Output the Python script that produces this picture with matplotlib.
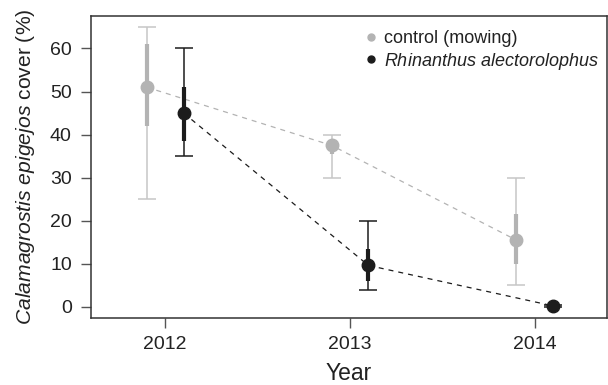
import matplotlib
matplotlib.use("Agg")
import matplotlib.pyplot as plt
import numpy as np

plt.rcParams['font.family'] = ['Liberation Sans', 'DejaVu Sans']
plt.rcParams['mathtext.fontset'] = 'custom'
plt.rcParams['mathtext.rm'] = 'Liberation Sans'
plt.rcParams['mathtext.it'] = 'Liberation Sans:italic'

years = [2012, 2013, 2014]

ctrl_median = [51.0, 37.5, 15.5]
ctrl_q1 = [42.0, 35.5, 10.0]
ctrl_q3 = [61.0, 39.0, 21.5]
ctrl_min = [25.0, 30.0, 5.0]
ctrl_max = [65.0, 40.0, 30.0]

rhin_median = [45.0, 9.6, 0.2]
rhin_q1 = [38.5, 6.0, 0.0]
rhin_q3 = [51.0, 13.5, 0.4]
rhin_min = [35.0, 4.0, 0.0]
rhin_max = [60.0, 20.0, 0.5]

labels = ['control (mowing)', r'$\it{Rhinanthus\ alectorolophus}$']

fig = plt.figure(figsize=(6.08, 3.85), dpi=100)
ax = fig.add_axes([0.149, 0.173, 0.849, 0.786])

series = [
    (ctrl_median, ctrl_q1, ctrl_q3, ctrl_min, ctrl_max, -0.1, '#b3b3b3', '#c6c6c6', labels[0], 2),
    (rhin_median, rhin_q1, rhin_q3, rhin_min, rhin_max, 0.1, '#1c1c1c', '#1c1c1c', labels[1], 4),
]
handles = []
for med, q1, q3, mn, mx, off, col, wcol, lab, z in series:
    x = np.array(years) + off
    med = np.array(med)
    ax.errorbar(x, med, yerr=[med - np.array(mn), np.array(mx) - med], fmt='none',
                ecolor=wcol, elinewidth=1.1, capsize=6.5, capthick=1.1, zorder=z)
    ax.vlines(x, q1, q3, colors=col, linewidth=3.0, zorder=z + 0.5)
    ax.plot(x, med, linestyle=(0, (4, 4)), color=col, linewidth=0.9, zorder=z - 1)
    ax.plot(x, med, linestyle='none', marker='o', markersize=9, color=col, zorder=z + 1)
    h, = ax.plot([], [], linestyle='none', marker='o', markersize=5, color=col, label=lab)
    handles.append(h)

ax.set_xlim(2011.596, 2014.39)
ax.set_ylim(-2.7, 67.6)
ax.set_xticks(years)
ax.set_xticklabels([str(y) for y in years])
ax.set_yticks([0, 10, 20, 30, 40, 50, 60])
ax.tick_params(axis='both', direction='out', length=7.5, width=1.0, color='#555555',
               labelsize=14, labelcolor='#222222')
ax.tick_params(axis='y', pad=6)
ax.tick_params(axis='x', pad=5)
for s in ax.spines.values():
    s.set_color('#333333')
    s.set_linewidth(1.1)

ax.set_xlabel('Year', fontsize=16.5, color='#222222', labelpad=7)
ax.set_ylabel(r'$\it{Calamagrostis\ epigejos}$ cover (%)', fontsize=15.2, color='#222222', labelpad=9.5)

ax.legend(handles=handles, loc='upper left', bbox_to_anchor=(0.53, 0.952), frameon=False,
          fontsize=13, borderaxespad=0, borderpad=0, handlelength=0.8, handletextpad=0.3,
          labelspacing=0.18, labelcolor='#222222')

fig.savefig('out.png', dpi=100)
